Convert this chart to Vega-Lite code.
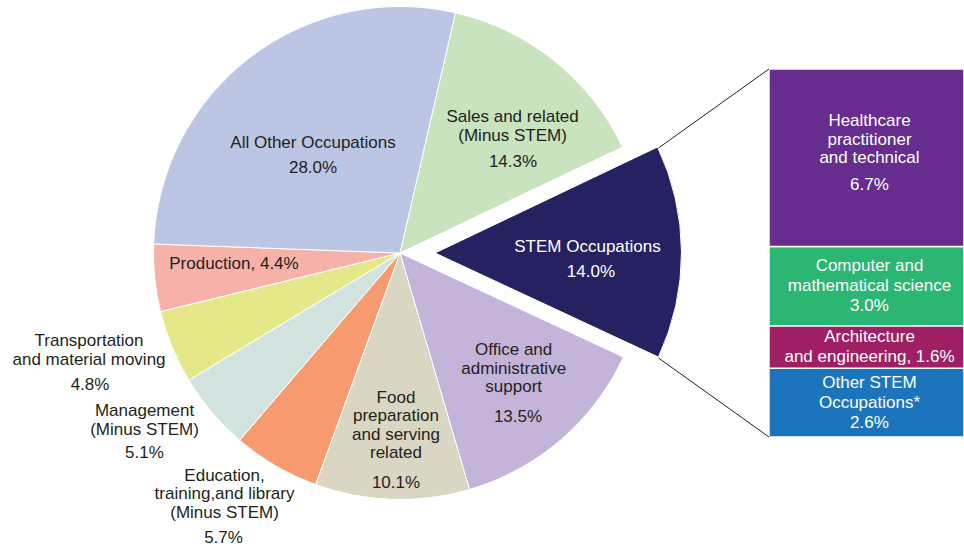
{
  "$schema": "https://vega.github.io/schema/vega-lite/v6.json",
  "width": 964,
  "height": 506,
  "autosize": {"type": "none"},
  "padding": {"left": 0, "top": 0, "right": 0, "bottom": 41},
  "background": "white",
  "config": {"view": {"stroke": null}, "text": {"font": "Liberation Sans", "fontSize": 17}},
  "datasets": {
    "occupations": [
      {"order": 1, "category": "Sales and related (Minus STEM)", "value": 14.3, "panel": "Occupations", "name": "Sales and related\n(Minus STEM)", "pct": "14.3%"},
      {"order": 2, "category": "STEM Occupations", "value": 14.0, "panel": "Occupations", "name": "STEM Occupations", "pct": "14.0%"},
      {"order": 3, "category": "Office and administrative support", "value": 13.5, "panel": "Occupations", "name": "Office and\nadministrative\nsupport", "pct": "13.5%"},
      {"order": 4, "category": "Food preparation and serving related", "value": 10.1, "panel": "Occupations", "name": "Food\npreparation\nand serving\nrelated", "pct": "10.1%"},
      {"order": 5, "category": "Education, training, and library (Minus STEM)", "value": 5.7, "panel": "Occupations", "name": "Education,\ntraining,and library\n(Minus STEM)", "pct": "5.7%"},
      {"order": 6, "category": "Management (Minus STEM)", "value": 5.1, "panel": "Occupations", "name": "Management\n(Minus STEM)", "pct": "5.1%"},
      {"order": 7, "category": "Transportation and material moving", "value": 4.8, "panel": "Occupations", "name": "Transportation\nand material moving", "pct": "4.8%"},
      {"order": 8, "category": "Production", "value": 4.4, "panel": "Occupations", "name": "Production, 4.4%", "pct": ""},
      {"order": 9, "category": "All Other Occupations", "value": 28.0, "panel": "Occupations", "name": "All Other Occupations", "pct": "28.0%"}
    ],
    "stem": [
      {"order": 1, "category": "Other STEM Occupations*", "value": 2.6, "panel": "STEM detail", "label": "Other STEM\nOccupations*\n2.6%"},
      {"order": 2, "category": "Architecture and engineering", "value": 1.6, "panel": "STEM detail", "label": "Architecture\nand engineering, 1.6%"},
      {"order": 3, "category": "Computer and mathematical science", "value": 3.0, "panel": "STEM detail", "label": "Computer and\nmathematical science\n3.0%"},
      {"order": 4, "category": "Healthcare practitioner and technical", "value": 6.7, "panel": "STEM detail", "name": "Healthcare\npractitioner\nand technical", "pct": "6.7%"}
    ]
  },
  "layer": [
    {
      "data": {"name": "occupations"},
      "mark": {"type": "arc", "radius": 246.5, "stroke": "white", "strokeWidth": 1},
      "encoding": {
        "x": {"field": "panel", "type": "nominal", "axis": null, "scale": {"type": "band", "domain": ["Occupations", "STEM detail"], "paddingInner": 0.582, "paddingOuter": 0.3242, "align": 1}},
        "theta": {"field": "value", "type": "quantitative", "stack": true, "scale": {"domain": [0, 99.9], "range": [0.22689, 6.51008], "nice": false}},
        "order": {"field": "order", "type": "quantitative"},
        "color": {"field": "category", "type": "nominal", "legend": null, "scale": {
          "domain": ["Sales and related (Minus STEM)", "STEM Occupations", "Office and administrative support", "Food preparation and serving related", "Education, training, and library (Minus STEM)", "Management (Minus STEM)", "Transportation and material moving", "Production", "All Other Occupations", "Healthcare practitioner and technical", "Computer and mathematical science", "Architecture and engineering", "Other STEM Occupations*"],
          "range": ["#c8e3be", "#262262", "#c4b4d9", "#d9d6c3", "#f79a6f", "#d2e3df", "#e5e888", "#f6b2a8", "#bcc5e3", "#662d8f", "#2bb673", "#9e1f63", "#1c75bc"]}},
        "opacity": {"condition": {"test": "datum.order === 2", "value": 0}, "value": 1}
      }
    },
    {
      "data": {"name": "occupations"},
      "mark": {"type": "arc", "radius": 246.5, "xOffset": 35, "stroke": "white", "strokeWidth": 1},
      "encoding": {
        "x": {"field": "panel", "type": "nominal", "axis": null},
        "theta": {"field": "value", "type": "quantitative", "stack": true},
        "order": {"field": "order", "type": "quantitative"},
        "color": {"field": "category", "type": "nominal", "legend": null},
        "opacity": {"condition": {"test": "datum.order === 2", "value": 1}, "value": 0}
      }
    },
    {
      "data": {"name": "stem"},
      "mark": {"type": "bar", "stroke": "white", "strokeWidth": 1.5},
      "encoding": {
        "x": {"field": "panel", "type": "nominal", "axis": null},
        "y": {"field": "value", "type": "quantitative", "stack": "zero", "axis": null, "scale": {"domain": [-2.606, 16.506], "nice": false, "zero": false}},
        "order": {"field": "order", "type": "quantitative"},
        "color": {"field": "category", "type": "nominal", "legend": null}
      }
    },
    {
      "data": {"name": "stem"},
      "mark": {"type": "text", "color": "white", "lineBreak": "\n", "lineHeight": 20, "baseline": "middle", "align": "center", "dx": 3, "dy": -20},
      "encoding": {
        "x": {"field": "panel", "type": "nominal", "axis": null},
        "y": {"field": "value", "type": "quantitative", "stack": "zero", "bandPosition": 0.5, "axis": null},
        "order": {"field": "order", "type": "quantitative"},
        "text": {"condition": {"test": "datum.order === 1 || datum.order === 3", "field": "label", "type": "nominal"}, "value": ""}
      }
    },
    {
      "data": {"name": "stem"},
      "mark": {"type": "text", "color": "white", "lineBreak": "\n", "lineHeight": 19.5, "baseline": "middle", "align": "center", "dx": 3, "dy": -9.5},
      "encoding": {
        "x": {"field": "panel", "type": "nominal", "axis": null},
        "y": {"field": "value", "type": "quantitative", "stack": "zero", "bandPosition": 0.5, "axis": null},
        "order": {"field": "order", "type": "quantitative"},
        "text": {"condition": {"test": "datum.order === 2", "field": "label", "type": "nominal"}, "value": ""}
      }
    },
    {
      "data": {"name": "stem"},
      "mark": {"type": "text", "color": "white", "lineBreak": "\n", "lineHeight": 18.5, "baseline": "middle", "align": "center", "dx": 3, "dy": -36.2},
      "encoding": {
        "x": {"field": "panel", "type": "nominal", "axis": null},
        "y": {"field": "value", "type": "quantitative", "stack": "zero", "bandPosition": 0.5, "axis": null},
        "order": {"field": "order", "type": "quantitative"},
        "text": {"condition": {"test": "datum.order === 4", "field": "name", "type": "nominal"}, "value": ""}
      }
    },
    {
      "data": {"name": "stem"},
      "mark": {"type": "text", "color": "white", "baseline": "middle", "align": "center", "dx": 3, "dy": 27.3},
      "encoding": {
        "x": {"field": "panel", "type": "nominal", "axis": null},
        "y": {"field": "value", "type": "quantitative", "stack": "zero", "bandPosition": 0.5, "axis": null},
        "order": {"field": "order", "type": "quantitative"},
        "text": {"condition": {"test": "datum.order === 4", "field": "pct", "type": "nominal"}, "value": ""}
      }
    },
    {
      "data": {"name": "stem"},
      "transform": [{"aggregate": [{"op": "sum", "field": "value", "as": "total"}], "groupby": ["panel"]}],
      "mark": {"type": "rule", "color": "#231f20", "strokeWidth": 1, "x2Offset": -110.5, "y2Offset": 79},
      "encoding": {
        "x": {"field": "panel", "type": "nominal", "bandPosition": 0, "axis": null},
        "x2": {"field": "panel", "bandPosition": 0},
        "y": {"field": "total", "type": "quantitative", "axis": null},
        "y2": {"field": "total"}
      }
    },
    {
      "data": {"name": "stem"},
      "transform": [{"aggregate": [{"op": "sum", "field": "value", "as": "total"}], "groupby": ["panel"]}],
      "mark": {"type": "rule", "color": "#231f20", "strokeWidth": 1, "x2Offset": -110.5, "y2Offset": -79},
      "encoding": {
        "x": {"field": "panel", "type": "nominal", "bandPosition": 0, "axis": null},
        "x2": {"field": "panel", "bandPosition": 0},
        "y": {"datum": 0, "type": "quantitative", "axis": null},
        "y2": {"datum": 0}
      }
    },
    {"data": {"name": "occupations"}, "mark": {"type": "text", "radius": 169.4, "thetaOffset": 0.0506, "lineBreak": "\n", "lineHeight": 18.5, "dy": -9.25, "color": "#231f20", "baseline": "middle", "align": "center"},
     "encoding": {"x": {"field": "panel", "type": "nominal", "axis": null}, "theta": {"field": "value", "type": "quantitative", "stack": true}, "order": {"field": "order", "type": "quantitative"}, "text": {"condition": {"test": "datum.order === 1", "field": "name", "type": "nominal"}, "value": ""}}},
    {"data": {"name": "occupations"}, "mark": {"type": "text", "radius": 145.1, "thetaOffset": 0.2162, "color": "#231f20", "baseline": "middle", "align": "center"},
     "encoding": {"x": {"field": "panel", "type": "nominal", "axis": null}, "theta": {"field": "value", "type": "quantitative", "stack": true}, "order": {"field": "order", "type": "quantitative"}, "text": {"condition": {"test": "datum.order === 1", "field": "pct", "type": "nominal"}, "value": ""}}},
    {"data": {"name": "occupations"}, "mark": {"type": "text", "radius": 187.6, "thetaOffset": -0.0278, "color": "white", "baseline": "middle", "align": "center"},
     "encoding": {"x": {"field": "panel", "type": "nominal", "axis": null}, "theta": {"field": "value", "type": "quantitative", "stack": true}, "order": {"field": "order", "type": "quantitative"}, "text": {"condition": {"test": "datum.order === 2", "field": "name", "type": "nominal"}, "value": ""}}},
    {"data": {"name": "occupations"}, "mark": {"type": "text", "radius": 191.9, "thetaOffset": 0.1033, "color": "white", "baseline": "middle", "align": "center"},
     "encoding": {"x": {"field": "panel", "type": "nominal", "axis": null}, "theta": {"field": "value", "type": "quantitative", "stack": true}, "order": {"field": "order", "type": "quantitative"}, "text": {"condition": {"test": "datum.order === 2", "field": "pct", "type": "nominal"}, "value": ""}}},
    {"data": {"name": "occupations"}, "mark": {"type": "text", "radius": 162.4, "thetaOffset": -0.0651, "lineBreak": "\n", "lineHeight": 18.5, "dy": -18.5, "color": "#231f20", "baseline": "middle", "align": "center"},
     "encoding": {"x": {"field": "panel", "type": "nominal", "axis": null}, "theta": {"field": "value", "type": "quantitative", "stack": true}, "order": {"field": "order", "type": "quantitative"}, "text": {"condition": {"test": "datum.order === 3", "field": "name", "type": "nominal"}, "value": ""}}},
    {"data": {"name": "occupations"}, "mark": {"type": "text", "radius": 202.0, "thetaOffset": 0.0864, "color": "#231f20", "baseline": "middle", "align": "center"},
     "encoding": {"x": {"field": "panel", "type": "nominal", "axis": null}, "theta": {"field": "value", "type": "quantitative", "stack": true}, "order": {"field": "order", "type": "quantitative"}, "text": {"condition": {"test": "datum.order === 3", "field": "pct", "type": "nominal"}, "value": ""}}},
    {"data": {"name": "occupations"}, "mark": {"type": "text", "radius": 172.5, "thetaOffset": -0.0087, "lineBreak": "\n", "lineHeight": 18.5, "dy": -27.75, "color": "#231f20", "baseline": "middle", "align": "center"},
     "encoding": {"x": {"field": "panel", "type": "nominal", "axis": null}, "theta": {"field": "value", "type": "quantitative", "stack": true}, "order": {"field": "order", "type": "quantitative"}, "text": {"condition": {"test": "datum.order === 4", "field": "name", "type": "nominal"}, "value": ""}}},
    {"data": {"name": "occupations"}, "mark": {"type": "text", "radius": 230.0, "thetaOffset": -0.0145, "color": "#231f20", "baseline": "middle", "align": "center"},
     "encoding": {"x": {"field": "panel", "type": "nominal", "axis": null}, "theta": {"field": "value", "type": "quantitative", "stack": true}, "order": {"field": "order", "type": "quantitative"}, "text": {"condition": {"test": "datum.order === 4", "field": "pct", "type": "nominal"}, "value": ""}}},
    {"data": {"name": "occupations"}, "mark": {"type": "text", "radius": 298.5, "thetaOffset": 0.0995, "lineBreak": "\n", "lineHeight": 18.5, "dy": -18.5, "color": "#231f20", "baseline": "middle", "align": "center"},
     "encoding": {"x": {"field": "panel", "type": "nominal", "axis": null}, "theta": {"field": "value", "type": "quantitative", "stack": true}, "order": {"field": "order", "type": "quantitative"}, "text": {"condition": {"test": "datum.order === 5", "field": "name", "type": "nominal"}, "value": ""}}},
    {"data": {"name": "occupations"}, "mark": {"type": "text", "radius": 335.2, "thetaOffset": 0.0257, "color": "#231f20", "baseline": "middle", "align": "center"},
     "encoding": {"x": {"field": "panel", "type": "nominal", "axis": null}, "theta": {"field": "value", "type": "quantitative", "stack": true}, "order": {"field": "order", "type": "quantitative"}, "text": {"condition": {"test": "datum.order === 5", "field": "pct", "type": "nominal"}, "value": ""}}},
    {"data": {"name": "occupations"}, "mark": {"type": "text", "radius": 305.5, "thetaOffset": 0.1220, "lineBreak": "\n", "lineHeight": 18.5, "dy": -9.25, "color": "#231f20", "baseline": "middle", "align": "center"},
     "encoding": {"x": {"field": "panel", "type": "nominal", "axis": null}, "theta": {"field": "value", "type": "quantitative", "stack": true}, "order": {"field": "order", "type": "quantitative"}, "text": {"condition": {"test": "datum.order === 6", "field": "name", "type": "nominal"}, "value": ""}}},
    {"data": {"name": "occupations"}, "mark": {"type": "text", "radius": 324.5, "thetaOffset": 0.0382, "color": "#231f20", "baseline": "middle", "align": "center"},
     "encoding": {"x": {"field": "panel", "type": "nominal", "axis": null}, "theta": {"field": "value", "type": "quantitative", "stack": true}, "order": {"field": "order", "type": "quantitative"}, "text": {"condition": {"test": "datum.order === 6", "field": "pct", "type": "nominal"}, "value": ""}}},
    {"data": {"name": "occupations"}, "mark": {"type": "text", "radius": 325.9, "thetaOffset": 0.0873, "lineBreak": "\n", "lineHeight": 18.5, "dy": -9.25, "color": "#231f20", "baseline": "middle", "align": "center"},
     "encoding": {"x": {"field": "panel", "type": "nominal", "axis": null}, "theta": {"field": "value", "type": "quantitative", "stack": true}, "order": {"field": "order", "type": "quantitative"}, "text": {"condition": {"test": "datum.order === 7", "field": "name", "type": "nominal"}, "value": ""}}},
    {"data": {"name": "occupations"}, "mark": {"type": "text", "radius": 336.9, "thetaOffset": -0.0115, "color": "#231f20", "baseline": "middle", "align": "center"},
     "encoding": {"x": {"field": "panel", "type": "nominal", "axis": null}, "theta": {"field": "value", "type": "quantitative", "stack": true}, "order": {"field": "order", "type": "quantitative"}, "text": {"condition": {"test": "datum.order === 7", "field": "pct", "type": "nominal"}, "value": ""}}},
    {"data": {"name": "occupations"}, "mark": {"type": "text", "radius": 166.4, "thetaOffset": 0.0356, "color": "#231f20", "baseline": "middle", "align": "center"},
     "encoding": {"x": {"field": "panel", "type": "nominal", "axis": null}, "theta": {"field": "value", "type": "quantitative", "stack": true}, "order": {"field": "order", "type": "quantitative"}, "text": {"condition": {"test": "datum.order === 8", "field": "name", "type": "nominal"}, "value": ""}}},
    {"data": {"name": "occupations"}, "mark": {"type": "text", "radius": 140.2, "thetaOffset": -0.0155, "color": "#231f20", "baseline": "middle", "align": "center"},
     "encoding": {"x": {"field": "panel", "type": "nominal", "axis": null}, "theta": {"field": "value", "type": "quantitative", "stack": true}, "order": {"field": "order", "type": "quantitative"}, "text": {"condition": {"test": "datum.order === 9", "field": "name", "type": "nominal"}, "value": ""}}},
    {"data": {"name": "occupations"}, "mark": {"type": "text", "radius": 121.6, "thetaOffset": -0.1433, "color": "#231f20", "baseline": "middle", "align": "center"},
     "encoding": {"x": {"field": "panel", "type": "nominal", "axis": null}, "theta": {"field": "value", "type": "quantitative", "stack": true}, "order": {"field": "order", "type": "quantitative"}, "text": {"condition": {"test": "datum.order === 9", "field": "pct", "type": "nominal"}, "value": ""}}}
  ]
}
